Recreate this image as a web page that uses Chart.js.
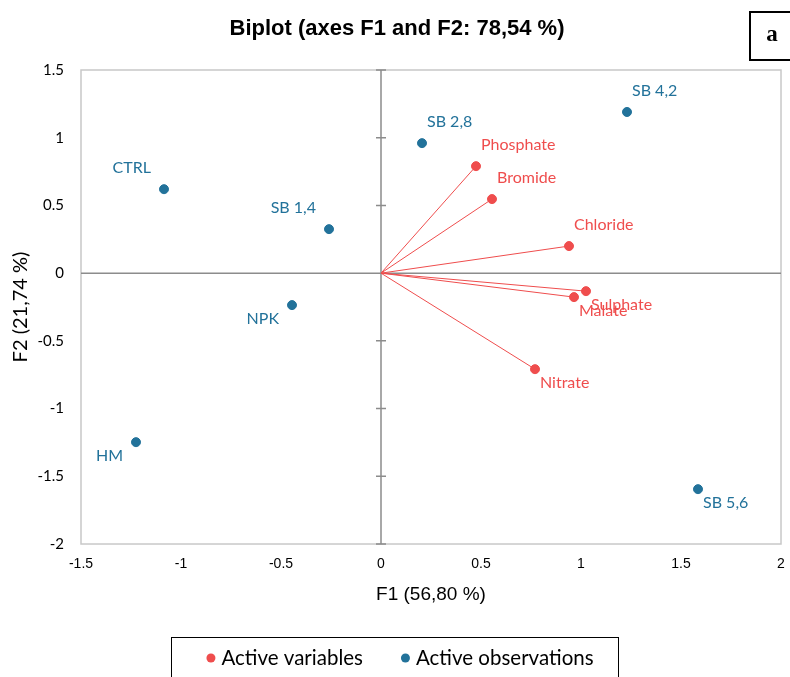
<!DOCTYPE html>
<html>
<head>
<meta charset="utf-8">
<script src="https://cdn.jsdelivr.net/npm/chart.js@4/dist/chart.umd.min.js"></script>
<style>
  html, body { margin: 0; padding: 0; background: #fff; }
  canvas { display: block; }
</style>
</head>
<body>
<canvas id="biplot" width="790" height="677"></canvas>
<script>
// variables (loadings)
const varNames = ['Phosphate', 'Bromide', 'Chloride', 'Sulphate', 'Malate', 'Nitrate'];
const varF1 = [0.475, 0.555, 0.94, 1.025, 0.965, 0.77];
const varF2 = [0.79, 0.547, 0.20, -0.133, -0.177, -0.709];
const varLabelPos = ['tr', 'tr', 'tr', 'br', 'br', 'br'];

// observations (scores)
const obsNames = ['SB 4,2', 'SB 2,8', 'CTRL', 'SB 1,4', 'NPK', 'HM', 'SB 5,6'];
const obsF1 = [1.23, 0.205, -1.085, -0.26, -0.445, -1.225, 1.585];
const obsF2 = [1.19, 0.96, 0.62, 0.325, -0.236, -1.248, -1.595];
const obsLabelPos = ['tr', 'tr', 'tl', 'tl', 'bl', 'bl', 'br'];

const RED = '#EF4D4D';
const BLUE = '#22729A';
const labelFont = '16px Lato, "Open Sans", sans-serif';
const legendFont = '20.5px Lato, "Open Sans", sans-serif';

const varPoints = varF1.map((x, i) => ({ x: x, y: varF2[i] }));
const obsPoints = obsF1.map((x, i) => ({ x: x, y: obsF2[i] }));

const vectorSets = varPoints.map(p => ({
    label: '_vector',
    data: [{ x: 0, y: 0 }, p],
    showLine: true,
    borderColor: RED,
    borderWidth: 1,
    pointRadius: 0,
    pointHoverRadius: 0
}));

// point labels, frame, zero axes, legend and the "a" tag
const decorations = {
    id: 'decorations',
    beforeDatasetsDraw(chart) {
        const { ctx, chartArea: a, scales } = chart;
        const x0 = scales.x.getPixelForValue(0);
        const y0 = scales.y.getPixelForValue(0);
        ctx.save();
        ctx.strokeStyle = '#C8C8C8';
        ctx.lineWidth = 1.5;
        ctx.strokeRect(a.left, a.top, a.right - a.left, a.bottom - a.top);

        ctx.strokeStyle = '#8C8C8C';
        ctx.lineWidth = 1.5;
        ctx.beginPath();
        ctx.moveTo(x0, a.top);
        ctx.lineTo(x0, a.bottom);
        ctx.moveTo(a.left, y0);
        ctx.lineTo(a.right, y0);
        scales.y.ticks.forEach(t => {
            const py = scales.y.getPixelForValue(t.value);
            ctx.moveTo(x0 - 5, py);
            ctx.lineTo(x0 + 5, py);
        });
        ctx.stroke();
        ctx.restore();
    },
    afterDatasetsDraw(chart) {
        const { ctx } = chart;
        const drawLabels = (dsIndex, names, places, color) => {
            const meta = chart.getDatasetMeta(dsIndex);
            ctx.fillStyle = color;
            ctx.font = labelFont;
            ctx.textBaseline = 'middle';
            meta.data.forEach((pt, i) => {
                const pos = places[i];
                const left = pos[1] === 'r';
                ctx.textAlign = left ? 'left' : 'right';
                const tx = left ? pt.x + 5 : pt.x - 13;
                const ty = pos[0] === 't' ? pt.y - 21 : pt.y + 14;
                ctx.fillText(names[i], tx, ty);
            });
        };
        ctx.save();
        drawLabels(0, varNames, varLabelPos, RED);
        drawLabels(1, obsNames, obsLabelPos, BLUE);
        ctx.restore();
    },
    afterDraw(chart) {
        const { ctx } = chart;
        ctx.save();
        // legend: the two main datasets
        const items = chart.data.datasets.slice(0, 2);
        ctx.font = legendFont;
        const dotR = 4.5, dotGap = 6, itemGap = 38;
        const widths = items.map(d => dotR * 2 + dotGap + ctx.measureText(d.label).width);
        const total = widths[0] + itemGap + widths[1];
        const cy = 658;
        let x = 400 - total / 2;
        const frameL = x - 35, frameR = x + total + 25;
        ctx.strokeStyle = '#000';
        ctx.lineWidth = 1;
        ctx.strokeRect(Math.round(frameL) + 0.5, 637.5, Math.round(frameR - frameL), 60);
        ctx.textAlign = 'left';
        ctx.textBaseline = 'middle';
        items.forEach((d, i) => {
            ctx.fillStyle = d.backgroundColor;
            ctx.beginPath();
            ctx.arc(x + dotR, cy, dotR, 0, Math.PI * 2);
            ctx.fill();
            ctx.fillStyle = '#000';
            ctx.fillText(d.label, x + dotR * 2 + dotGap, cy);
            x += widths[i] + itemGap;
        });
        // panel tag
        ctx.lineWidth = 2;
        ctx.strokeStyle = '#000';
        ctx.strokeRect(750, 12, 60, 48);
        ctx.fillStyle = '#000';
        ctx.font = 'bold 23px "Liberation Serif", serif';
        ctx.textAlign = 'center';
        ctx.fillText('a', 772, 35);
        ctx.restore();
    }
};

const fmtTick = v => String(Math.round(v * 10) / 10);

new Chart(document.getElementById('biplot'), {
    type: 'scatter',
    data: {
        datasets: [
            {
                label: 'Active variables',
                data: varPoints,
                backgroundColor: RED,
                borderColor: RED,
                pointRadius: 4.5,
                pointHoverRadius: 4.5
            },
            {
                label: 'Active observations',
                data: obsPoints,
                backgroundColor: BLUE,
                borderColor: BLUE,
                pointRadius: 4.5,
                pointHoverRadius: 4.5
            },
            ...vectorSets
        ]
    },
    options: {
        responsive: false,
        animation: false,
        layout: { padding: { left: 13, right: 9, top: 0, bottom: 0 } },
        plugins: {
            tooltip: { enabled: false },
            legend: { display: false },
            title: {
                display: true,
                text: 'Biplot (axes F1 and F2: 78,54 %)',
                color: '#000',
                font: { family: '"Liberation Sans", Arial, sans-serif', size: 22, weight: 'bold' },
                padding: { top: 16, bottom: 27.6 }
            }
        },
        scales: {
            x: {
                type: 'linear',
                min: -1.5,
                max: 2,
                // tick marks hidden; tickLength only spaces the labels
                grid: { display: false, drawTicks: true, tickLength: 12 },
                border: { display: false },
                ticks: {
                    stepSize: 0.5,
                    padding: 0,
                    color: '#000',
                    callback: fmtTick,
                    font: { family: '"Liberation Sans Narrow", "Arial Narrow", sans-serif', size: 14 }
                },
                title: {
                    display: true,
                    text: 'F1 (56,80 %)',
                    color: '#000',
                    font: { family: '"Liberation Sans", Arial, sans-serif', size: 19 },
                    padding: { top: 4, bottom: 70.6 }
                },
                afterFit(scale) { scale.height = 133; }
            },
            y: {
                type: 'linear',
                min: -2,
                max: 1.5,
                grid: { display: false, drawTicks: false },
                border: { display: false },
                ticks: {
                    stepSize: 0.5,
                    padding: 17,
                    color: '#000',
                    callback: fmtTick,
                    font: { family: 'Lato, "Open Sans", sans-serif', size: 15 }
                },
                title: {
                    display: true,
                    text: 'F2 (21,74 %)',
                    color: '#000',
                    font: { family: 'Lato, "Open Sans", sans-serif', size: 20 },
                    padding: { top: -4, bottom: 4 }
                },
                afterFit(scale) { scale.width = 68; }
            }
        }
    },
    plugins: [decorations]
});
</script>
</body>
</html>
